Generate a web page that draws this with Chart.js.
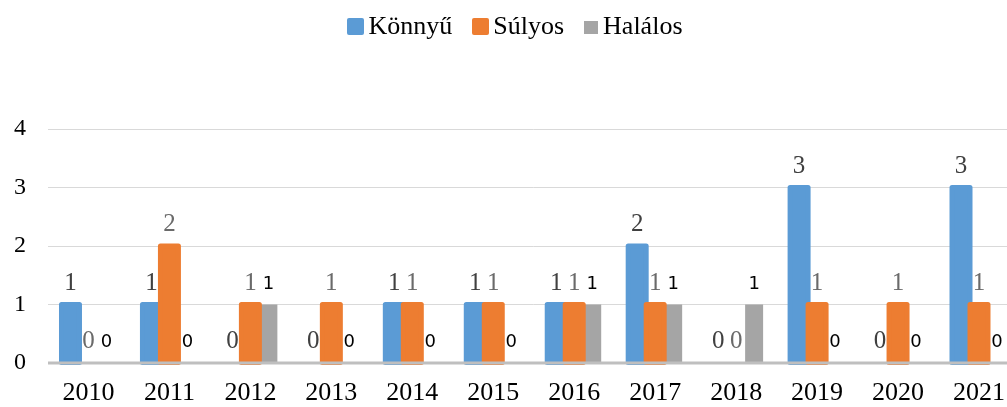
<!DOCTYPE html>
<html>
<head>
<meta charset="utf-8">
<script src="https://cdn.jsdelivr.net/npm/chart.js@4.4.1/dist/chart.umd.min.js"></script>
<style>
  html, body { margin: 0; padding: 0; overflow: hidden; width: 1007px; height: 407px; background: #fff; }
  #wrap { position: relative; width: 1020px; height: 407px; }
  #legend { position: absolute; top: 11px; left: 0; width: 1030px; display: flex; justify-content: center;
            font-family: 'Liberation Serif', 'Times New Roman', serif; font-size: 26px; line-height: 30px; color: #000; }
  .item { display: flex; align-items: center; margin: 0 10px; }
  .box { display: inline-block; margin-right: 4px; }
  canvas { position: absolute; top: 0; left: 0; }
</style>
</head>
<body>
<div id="wrap">
  <canvas id="c" width="1020" height="407" style="width:1020px;height:407px"></canvas>
  <div id="legend"></div>
</div>
<script>
const categories = ['2010','2011','2012','2013','2014','2015','2016','2017','2018','2019','2020','2021'];
const seriesNames = ['Könnyű', 'Súlyos', 'Halálos'];
const konnyu  = [1, 1, 0, 0, 1, 1, 1, 2, 0, 3, 0, 3];
const sulyos  = [0, 2, 1, 1, 1, 1, 1, 1, 0, 1, 1, 1];
const halalos = [0, 0, 1, 0, 0, 0, 1, 1, 1, 0, 0, 0];
const yTicks  = [0, 1, 2, 3, 4];

const colors = ['#5B9BD5', '#ED7D31', '#A5A5A5'];
const serif = "'Liberation Serif', 'Times New Roman', serif";

// HTML legend
const legend = document.getElementById('legend');
seriesNames.forEach((name, i) => {
  const item = document.createElement('div');
  item.className = 'item';
  const box = document.createElement('span');
  box.className = 'box';
  if (i < 2) {
    box.style.cssText += 'width:17px;height:17px;border-radius:2px;background:' + colors[i];
  } else {
    box.style.cssText += 'width:14px;height:13px;margin-top:2px;margin-right:5px;background:' + colors[i];
  }
  const txt = document.createElement('span');
  txt.textContent = name;
  item.appendChild(box);
  item.appendChild(txt);
  legend.appendChild(item);
});

const overlay = {
  id: 'overlay',
  afterDatasetsDraw(chart) {
    const ctx = chart.ctx;
    // rounded-edge look of the first two series (drawn over the library bars, orange on top)
    [0, 1].forEach(di => {
      const meta = chart.getDatasetMeta(di);
      const ds = chart.data.datasets[di];
      meta.data.forEach((el, i) => {
        if (!ds.data[i]) return;
        const p = el.getProps(['x', 'y', 'base', 'width'], true);
        ctx.save();
        ctx.fillStyle = ds.backgroundColor;
        ctx.strokeStyle = ds.backgroundColor;
        ctx.lineWidth = 5;
        ctx.lineJoin = 'round';
        ctx.beginPath();
        ctx.rect(p.x - p.width / 2, p.y, p.width, p.base - p.y);
        ctx.fill();
        ctx.stroke();
        ctx.restore();
      });
    });
    // baseline
    const y0 = chart.scales.y.getPixelForValue(0);
    ctx.save();
    ctx.strokeStyle = '#BFBFBF';
    ctx.lineWidth = 3;
    ctx.beginPath();
    ctx.moveTo(chart.chartArea.left, y0);
    ctx.lineTo(chart.chartArea.right, y0);
    ctx.stroke();
    ctx.restore();
    // data labels
    const labelStyles = [
      { font: "25px " + serif, color: '#404040', off: 15 },
      { font: "25px " + serif, color: '#6A6A6A', off: 15 },
      { font: "18px 'DejaVu Sans', sans-serif", color: '#000000', off: 16 }
    ];
    chart.data.datasets.forEach((ds, di) => {
      const meta = chart.getDatasetMeta(di);
      const st = labelStyles[di];
      meta.data.forEach((el, i) => {
        const p = el.getProps(['x', 'y'], true);
        ctx.save();
        ctx.font = st.font;
        ctx.fillStyle = st.color;
        ctx.textAlign = 'center';
        ctx.textBaseline = 'alphabetic';
        ctx.fillText(String(ds.data[i]), p.x, p.y - st.off);
        ctx.restore();
      });
    });
  }
};

new Chart(document.getElementById('c'), {
  type: 'bar',
  data: {
    labels: categories,
    datasets: [
      { label: seriesNames[0], data: konnyu,  backgroundColor: colors[0], borderWidth: 0, categoryPercentage: 54 / 81, barPercentage: 1 },
      { label: seriesNames[1], data: sulyos,  backgroundColor: colors[1], borderWidth: 0, categoryPercentage: 54 / 81, barPercentage: 1 },
      { label: seriesNames[2], data: halalos, backgroundColor: colors[2], borderWidth: 0, categoryPercentage: 54 / 81, barPercentage: 1 }
    ]
  },
  options: {
    responsive: false,
    devicePixelRatio: 1,
    animation: false,
    layout: { padding: { top: 129, right: 0, bottom: 0, left: 0 } },
    plugins: { legend: { display: false }, tooltip: { enabled: false }, title: { display: false } },
    scales: {
      x: {
        grid: { display: false, drawTicks: false },
        border: { display: false },
        ticks: { color: '#000', font: { family: serif, size: 26 }, padding: 15, maxRotation: 0, autoSkip: false },
        afterFit: s => { s.height = 44; }
      },
      y: {
        min: yTicks[0],
        max: yTicks[yTicks.length - 1],
        afterBuildTicks: s => { s.ticks = yTicks.map(v => ({ value: v })); },
        grid: { color: '#D9D9D9', lineWidth: 1, drawTicks: false },
        border: { display: false },
        ticks: { color: '#000', font: { family: serif, size: 24 }, padding: 22 },
        afterFit: s => { s.width = 48; }
      }
    }
  },
  plugins: [overlay]
});
</script>
</body>
</html>
